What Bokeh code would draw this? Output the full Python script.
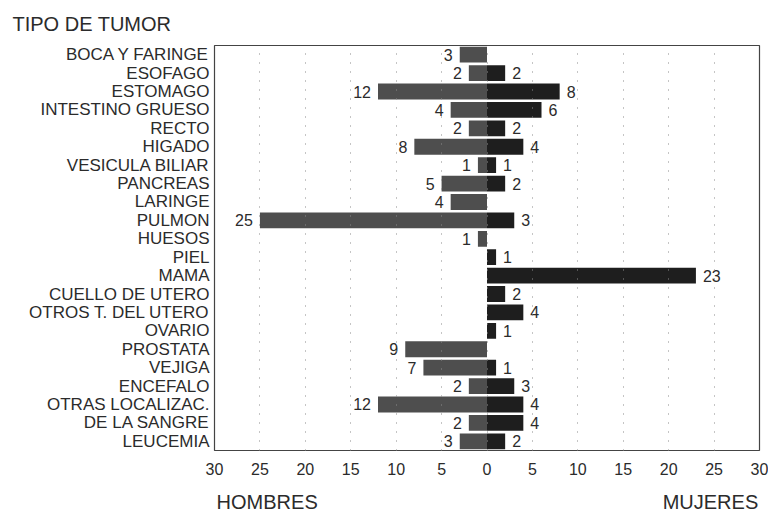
from bokeh.plotting import figure
from bokeh.models import (ColumnDataSource, FactorRange, Range1d, FixedTicker,
                          CustomJSTickFormatter, LinearAxis, Title)
from bokeh.embed import file_html
from bokeh.resources import INLINE
from bokeh.core.properties import value

categories = ["BOCA Y FARINGE", "ESOFAGO", "ESTOMAGO", "INTESTINO GRUESO", "RECTO",
              "HIGADO", "VESICULA BILIAR", "PANCREAS", "LARINGE", "PULMON", "HUESOS",
              "PIEL", "MAMA", "CUELLO DE UTERO", "OTROS T. DEL UTERO", "OVARIO",
              "PROSTATA", "VEJIGA", "ENCEFALO", "OTRAS LOCALIZAC.", "DE LA SANGRE",
              "LEUCEMIA"]
hombres = [3, 2, 12, 4, 2, 8, 1, 5, 4, 25, 1, 0, 0, 0, 0, 0, 9, 7, 2, 12, 2, 3]
mujeres = [0, 2, 8, 6, 2, 4, 1, 2, 0, 3, 0, 1, 23, 2, 4, 1, 0, 1, 3, 4, 4, 2]
x_ticks = [-30, -25, -20, -15, -10, -5, 0, 5, 10, 15, 20, 25, 30]
side_names = ["HOMBRES", "MUJERES"]
side_at = [-24.2, 24.6]

FONT = "Liberation Sans"
TXT = "#2b2b2b"

p = figure(width=768, height=515, output_backend="svg", toolbar_location=None,
           y_range=FactorRange(factors=list(reversed(categories))),
           x_range=Range1d(-30, 30),
           min_border_left=214, min_border_right=9, min_border_top=45,
           min_border_bottom=65)

p.outline_line_color = "#444444"
p.outline_line_width = 1.2
p.background_fill_color = "white"
p.border_fill_color = "white"

src = ColumnDataSource(dict(cat=categories, neg=[-v for v in hombres], muj=mujeres))
p.hbar(y="cat", left="neg", right=0, height=0.86, source=src,
       fill_color="#4e4e4e", line_color=None)
p.hbar(y="cat", left=0, right="muj", height=0.86, source=src,
       fill_color="#1e1e1e", line_color=None)

hl = [(c, v) for c, v in zip(categories, hombres) if v > 0]
ml = [(c, v) for c, v in zip(categories, mujeres) if v > 0]
hsrc = ColumnDataSource(dict(cat=[c for c, v in hl], x=[-v for c, v in hl],
                             t=[str(v) for c, v in hl]))
msrc = ColumnDataSource(dict(cat=[c for c, v in ml], x=[v for c, v in ml],
                             t=[str(v) for c, v in ml]))
p.text(x="x", y="cat", text="t", source=hsrc, x_offset=-7, text_align="right",
       text_baseline="middle", text_font=value(FONT), text_font_size="16px",
       text_color=TXT)
p.text(x="x", y="cat", text="t", source=msrc, x_offset=7, text_align="left",
       text_baseline="middle", text_font=value(FONT), text_font_size="16px",
       text_color=TXT)

# axes
p.xaxis.ticker = FixedTicker(ticks=x_ticks)
p.xaxis.formatter = CustomJSTickFormatter(code="return Math.abs(tick).toString()")
p.xaxis.axis_line_color = None
p.xaxis.major_tick_line_color = None
p.xaxis.minor_tick_line_color = None
p.xaxis.major_tick_out = 0
p.xaxis.minor_tick_out = 0
p.xaxis.major_label_standoff = 12
p.xaxis.major_label_text_font = FONT
p.xaxis.major_label_text_font_size = "16px"
p.xaxis.major_label_text_color = TXT

side_axis = LinearAxis(ticker=FixedTicker(ticks=side_at),
                       major_label_overrides={k: v for k, v in zip(side_at, side_names)},
                       axis_line_color=None, major_tick_line_color=None,
                       minor_tick_line_color=None, major_tick_out=0, minor_tick_out=0,
                       major_label_standoff=13,
                       major_label_text_font=FONT, major_label_text_font_size="20px",
                       major_label_text_color=TXT)
p.add_layout(side_axis, "below")

p.yaxis.axis_line_color = None
p.yaxis.major_tick_line_color = None
p.yaxis.minor_tick_line_color = None
p.yaxis.major_tick_out = 0
p.yaxis.minor_tick_out = 0
p.yaxis.major_label_standoff = 5
p.yaxis.major_label_text_font = FONT
p.yaxis.major_label_text_font_size = "17px"
p.yaxis.major_label_text_color = TXT

p.ygrid.grid_line_color = None
p.xgrid.ticker = FixedTicker(ticks=x_ticks[1:-1])
p.xgrid.grid_line_color = "#8a8a8a"
p.xgrid.grid_line_dash = "1 8"
p.xgrid.grid_line_width = 1
p.xgrid.level = "overlay"

p.add_layout(Title(text="TIPO DE TUMOR", align="left", offset=-202,
                   text_font=FONT, text_font_size="20px", text_font_style="normal",
                   text_color=TXT, standoff=21), "above")

open("out.html", "w").write(file_html(p, INLINE))
